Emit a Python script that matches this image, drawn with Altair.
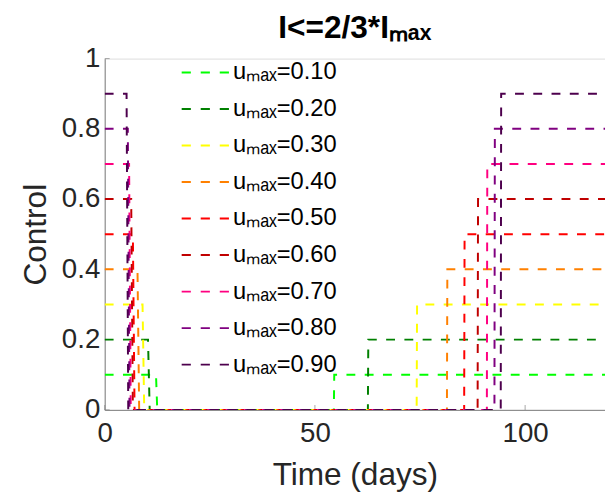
import altair as alt
import pandas as pd

# ---- data ----
u_max = [0.1, 0.2, 0.3, 0.4, 0.5, 0.6, 0.7, 0.8, 0.9]
labels = ["uₘₐₓ=0.10", "uₘₐₓ=0.20", "uₘₐₓ=0.30", "uₘₐₓ=0.40", "uₘₐₓ=0.50",
          "uₘₐₓ=0.60", "uₘₐₓ=0.70", "uₘₐₓ=0.80", "uₘₐₓ=0.90"]
colors = ["#00ff00", "#008000", "#ffff00", "#ff8000", "#ff0000",
          "#c00000", "#ff0080", "#800080", "#4d004d"]
t_drop_start = [12.2, 10.3, 9.0, 7.8, 6.7, 6.3, 5.8, 5.5, 5.2]
t_drop_end = [12.5, 10.7, 9.4, 8.2, 7.1, 6.7, 6.2, 5.9, 5.6]
t_rise = [54.5, 62.6, 74.2, 81.4, 85.5, 88.7, 90.9, 92.7, 94.2]
t_start = 0
t_end = 120
x_ticks = [0, 50, 100]
y_ticks = [0, 0.2, 0.4, 0.6, 0.8, 1]

rows = []
for u, lab, a, b, r in zip(u_max, labels, t_drop_start, t_drop_end, t_rise):
    pts = [(t_start, u), (a, u), (b, 0), (r, 0), (r + 0.1, u), (t_end, u)]
    for k, (t, v) in enumerate(pts):
        rows.append({"label": lab, "t": t, "u": v, "step": k})
df = pd.DataFrame(rows)

FONT = "Liberation Sans"
xscale = alt.Scale(domain=[0, 119], nice=False, zero=False)
yscale = alt.Scale(domain=[0, 1], nice=False)

lines = alt.Chart(df).mark_line(strokeWidth=2, strokeDash=[9, 9.5], clip=True).encode(
    x=alt.X("t:Q", scale=xscale,
            axis=alt.Axis(values=x_ticks, title="Time (days)", grid=False, ticks=False,
                          labelFontSize=28, titleFontSize=32, titleFontWeight="normal",
                          labelFont=FONT, titleFont=FONT, labelColor="#262626",
                          titleColor="#262626", domainColor="#808080", domainWidth=1,
                          labelPadding=10, titlePadding=13, labelFlush=False)),
    y=alt.Y("u:Q", scale=yscale,
            axis=alt.Axis(values=y_ticks, format="~g", title="Control", grid=False, ticks=False,
                          labelFontSize=28, titleFontSize=32, titleFontWeight="normal",
                          labelFont=FONT, titleFont=FONT, labelColor="#262626",
                          titleColor="#262626", domainColor="#808080", domainWidth=1,
                          labelPadding=5, titlePadding=9, labelFlush=False)),
    color=alt.Color("label:N", sort=labels,
                    scale=alt.Scale(domain=labels, range=colors),
                    legend=alt.Legend(title=None, orient="none", legendX=77, legendY=-4,
                                      symbolType="stroke", symbolSize=2304,
                                      symbolStrokeWidth=2, symbolDash=[9.3, 10],
                                      clipHeight=36.3, rowPadding=0, padding=0,
                                      labelFontSize=24, labelFont=FONT, labelColor="#000000",
                                      labelOffset=3, labelLimit=300)),
    order="step:Q",
)

tick_df = pd.DataFrame({"t": x_ticks, "u": [0] * len(x_ticks)})
xt = alt.Chart(tick_df).mark_tick(color="#808080", size=5, thickness=1, yOffset=-2.5).encode(
    x=alt.X("t:Q", scale=xscale), y=alt.Y("u:Q", scale=yscale))
ytick_df = pd.DataFrame({"t": [0] * len(y_ticks), "u": y_ticks})
yt = alt.Chart(ytick_df).mark_tick(color="#808080", size=5, thickness=1, xOffset=2.5,
                                   orient="horizontal").encode(
    x=alt.X("t:Q", scale=xscale), y=alt.Y("u:Q", scale=yscale))

chart = alt.layer(xt, yt, lines).properties(
    width=507, height=356,
    title=alt.TitleParams("I<=2/3*Iₘₐₓ", fontSize=32, fontWeight="bold", font=FONT,
                          anchor="middle", offset=0, color="#000000"),
    autosize=alt.AutoSizeParams(type="none"),
    padding={"left": 98, "top": 48, "right": 0, "bottom": 83},
).configure_view(stroke=None).configure(background="white")

chart.save("out.html", embed_options={"renderer": "svg", "actions": False})
